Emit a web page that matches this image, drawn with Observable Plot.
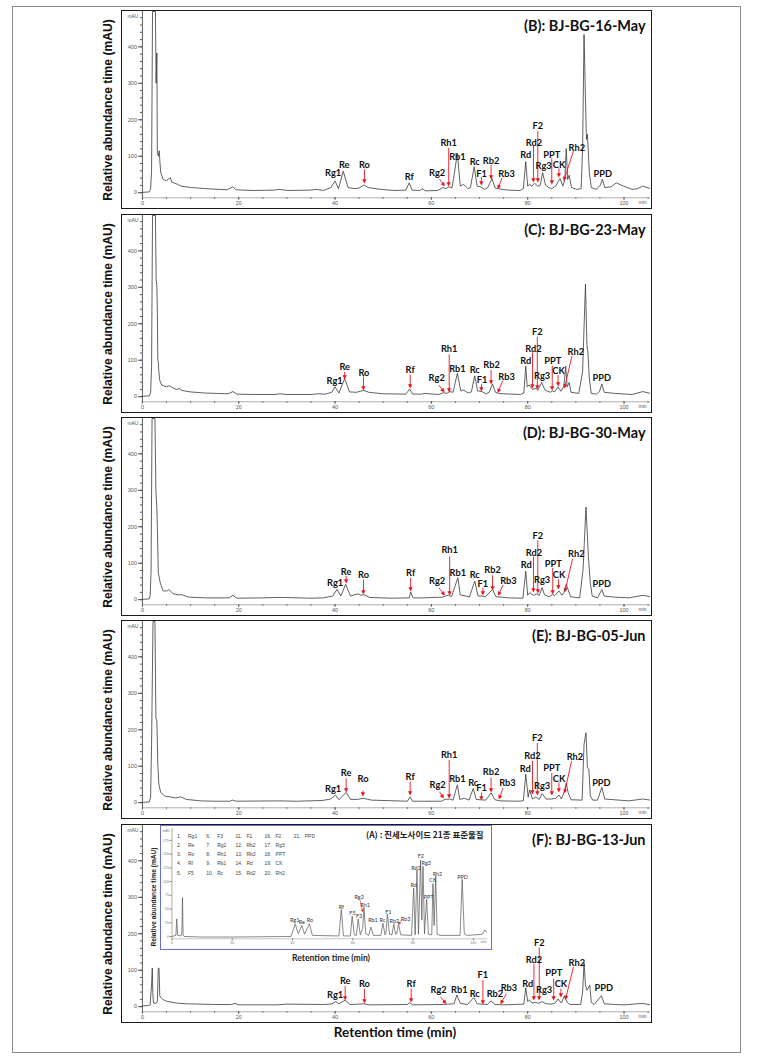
<!DOCTYPE html>
<html><head><meta charset="utf-8">
<script src="https://cdn.jsdelivr.net/npm/d3@7"></script>
<script src="https://cdn.jsdelivr.net/npm/@observablehq/plot@0.6"></script>
<style>
body{margin:0;background:#fff;}
#page{position:relative;width:772px;height:1056px;overflow:hidden;background:#fff;}
.outer{position:absolute;left:12px;top:6px;width:729px;height:1047px;border:1.5px solid #8c8c8c;box-sizing:border-box;}
.box{position:absolute;left:121px;width:531px;height:199px;border:1.5px solid #1a1a1a;box-sizing:border-box;background:#fff;}
.box > svg{position:absolute;left:-1.5px;top:-1.5px;}
.ylab{position:absolute;left:108px;transform:translate(-50%,-50%) rotate(-90deg);white-space:nowrap;font:bold 12.1px "Liberation Sans",Arial,sans-serif;color:#111;}
#xlab{position:absolute;left:395px;top:1032px;transform:translate(-50%,-50%);white-space:nowrap;font:bold 13.5px Lato,sans-serif;color:#111;}
.inset{position:absolute;left:160px;top:825px;width:332px;height:125px;border:1.5px solid #6d6dd2;box-sizing:border-box;background:#fff;}
.inset > svg{position:absolute;left:-1.5px;top:-1.5px;}
.insetY{position:absolute;left:153px;top:897px;transform:translate(-50%,-50%) rotate(-90deg);white-space:nowrap;font:bold 6.6px "Liberation Sans",Arial,sans-serif;color:#222;}
.insetX{position:absolute;left:331px;top:958px;transform:translate(-50%,-50%);white-space:nowrap;font:bold 8.6px Lato,sans-serif;color:#222;}
.legend{position:absolute;left:16px;top:5px;display:grid;grid-auto-flow:column;grid-template-rows:repeat(5,9.25px);grid-auto-columns:29.2px;font:5px "Liberation Sans",Arial,sans-serif;color:#444;align-items:center;}
.legend .n{display:inline-block;width:11px;}
</style>
</head><body>
<div id="page">
  <div class="outer"></div>
  <div id="xlab">Retention time (min)</div>
</div>
<script>
// ---------- DATA ----------
const standards = ["Rg1","Re","Ro","Rf","F5","F3","Rg2","Rh1","Rb1","Rc","F1","Rb2","Rb3","Rd","Rd2","F2","Rg3","PPT","CK","Rh2","PPD"];
const panelTitles = ["(B): BJ-BG-16-May","(C): BJ-BG-23-May","(D): BJ-BG-30-May","(E): BJ-BG-05-Jun","(F): BJ-BG-13-Jun"];
const insetTitle = "(A) : 진세노사이드 21종 표준물질";
const yTicks = [0,100,200,300,400];
const xTicks = [0,20,40,60,80,100];
const insetYTicks = [0,25,50,75,100,125,150,175];

// chromatogram traces [time (min), signal (mAU)]
const traceB = [[0,1],[1.4,2],[1.7,10],[1.9,60],[2.1,497],[2.7,497],[2.85,300],[3.0,383],[3.1,110],[3.3,100],[3.5,115],[3.6,90],[3.8,55],[4.3,37],[5.0,32],[5.4,38],[5.8,41],[6.1,29],[7.3,23],[8,18],[10.2,14],[13.2,11],[17.6,8],[18.7,16],[19.5,8],[22.8,6],[27.3,7],[28.4,9],[30.2,6],[34.7,7],[36.1,9],[37.6,6],[39.1,14],[40.0,32],[40.7,11],[41.7,59],[42.7,14],[44.3,11],[45,13],[46,21],[46.9,14],[49.5,9],[52.4,6],[54.7,7],[55.4,27],[56,7],[57.6,6],[58.2,11],[58.7,5],[61.3,6],[62.4,14],[63,11],[63.6,16],[64.3,13],[65.4,108],[66,18],[66.7,23],[67.6,11],[68.1,14],[68.9,71],[69.5,18],[70.2,16],[71,9],[71.7,14],[72.6,39],[73.2,13],[73.9,11],[74.7,9],[76.1,7],[78.4,6],[79.1,11],[79.6,85],[80,18],[80.4,23],[80.9,18],[81.4,26],[82.1,18],[82.6,20],[83.1,55],[83.7,21],[84.4,14],[85,11],[85.8,18],[86.7,39],[87.3,18],[87.7,36],[88,121],[88.3,36],[88.6,48],[89.1,14],[90.2,9],[91.1,11],[91.4,120],[91.7,434],[92,255],[92.2,146],[92.4,160],[92.8,55],[93.2,14],[94.3,9],[95.1,21],[95.5,37],[96,14],[97.3,16],[98.4,27],[99.9,18],[101.7,9],[102.8,11],[103.9,18],[105.5,11]];
const traceC = [[0,1],[1.4,2],[1.7,10],[1.9,80],[2.1,497],[2.7,497],[2.85,320],[3.0,305],[3.1,230],[3.2,100],[3.3,95],[3.4,70],[3.6,45],[4,32],[5,27],[5.6,30],[6.2,25],[7,20],[7.7,22],[8.2,17],[10,13],[13,10],[17.8,8],[18.8,14],[19.6,7],[23,6],[27.5,6],[28.5,8],[30,6],[35,6],[36.5,8],[38,7],[39.3,12],[40.0,27],[40.8,10],[42,50],[43,13],[44.5,12],[45.2,15],[46,17],[47,12],[50,8],[54.7,7],[55.5,21],[56.1,7],[58,7],[58.6,9],[61.5,6],[62.5,11],[63.2,9],[63.8,14],[64.5,12],[65.4,64],[66.1,16],[66.7,18],[67.7,10],[68.3,13],[69,57],[69.6,16],[70.5,14],[71.3,8],[72,12],[72.7,35],[73.3,12],[74,9],[75,8],[78.5,6],[79.2,10],[79.6,84],[79.9,27],[80.3,32],[81,20],[81.8,23],[82.1,17],[82.9,39],[83.6,18],[84.7,12],[85.1,16],[85.6,13],[86.3,27],[86.9,15],[87.5,27],[87.9,84],[88.2,27],[88.6,39],[89,12],[90.6,9],[91.4,68],[92,309],[92.3,141],[92.5,123],[92.8,50],[93.2,9],[94.3,7],[94.9,14],[95.4,35],[95.9,12],[98,9],[101.7,6],[103.9,14],[105.5,9]];
const traceD = [[0,1],[1.4,2],[1.6,10],[1.8,80],[2.0,497],[2.6,497],[2.8,300],[3.0,251],[3.1,200],[3.3,74],[3.7,46],[4.3,24],[5.2,24],[5.5,28],[6.3,17],[7.4,13],[8.1,14],[9.6,7],[13.3,5],[18.0,5],[18.8,12],[19.6,4],[25,5],[28,6],[29.5,6],[35,4],[37.6,5],[39.5,10],[40.4,28],[41.2,10],[42.2,42],[43.2,10],[44.8,16],[45.4,12],[45.9,14],[47.2,6],[52,4],[55.4,5],[55.7,21],[56.2,5],[58.2,5],[62.4,7],[62.9,10],[63.5,12],[64.2,9],[65.5,60],[66,13],[67.2,10],[67.9,7],[69,51],[69.7,10],[70.5,10],[71.2,8],[72.7,28],[73.4,8],[74.5,7],[76,5],[79.0,4],[79.6,78],[80,12],[80.4,19],[81.2,12],[81.9,16],[82.4,12],[83,33],[83.5,13],[84.5,8],[85.1,14],[85.6,11],[86.5,24],[87.1,12],[87.5,19],[88.0,42],[88.4,28],[88.9,8],[90.8,5],[91.5,83],[92.1,254],[92.4,174],[92.6,119],[93.0,46],[93.4,10],[94.5,5],[95.4,28],[95.9,10],[98,7],[101,5],[104,12],[105.5,8]];
const traceE = [[0,1],[1.4,2],[1.7,15],[1.9,160],[2.2,497],[2.6,497],[2.8,233],[3.0,224],[3.2,105],[3.4,51],[3.8,28],[4.7,18],[5.8,16],[6.9,13],[8.0,16],[9.1,9],[12.1,5],[15,4],[18.2,4],[18.7,7],[19.5,4],[28.4,5],[32,4],[37.3,6],[39.1,10],[40.1,21],[40.8,8],[42.3,28],[43.2,9],[44.7,9],[45.8,12],[47.6,7],[55,4],[55.6,16],[56.1,4],[62.1,4],[62.8,9],[63.8,10],[64.5,7],[65.4,49],[65.9,9],[66.9,12],[67.8,7],[68.7,39],[69.3,9],[70.2,8],[71.3,7],[72.4,27],[73.2,8],[74.3,5],[78,4],[79.1,5],[79.6,78],[80.1,15],[80.4,35],[81,10],[81.7,16],[82.4,9],[83,25],[83.8,10],[85,10],[85.8,12],[86.5,21],[87,10],[87.6,30],[88.0,54],[88.4,28],[89,8],[91.3,7],[91.7,160],[92.1,192],[92.4,96],[92.7,92],[93,19],[93.5,7],[94.5,7],[95.4,42],[96,10],[98,8],[101,5],[103.9,10],[105.5,7]];
const traceF = [[0,2],[1.2,3],[1.6,5],[1.9,60],[2.05,106],[2.15,40],[2.3,10],[2.8,9],[3.1,14],[3.3,106],[3.45,105],[3.6,30],[3.8,25],[4.2,20],[5,15],[7,10],[9,8],[15,6],[18.5,6],[19.2,9],[20,5],[28,5],[30,7],[38,6],[39.4,8],[40.1,14],[40.8,8],[42.1,18],[43.1,6],[45,7],[46,8],[47,5],[55,6],[55.5,11],[56.1,5],[62.5,6],[63.5,7],[64.7,8],[65.3,32],[66,9],[67.5,6],[68.8,25],[69.5,8],[70.6,7],[71.6,6],[72.4,16],[73.2,6],[75,5],[79.2,7],[79.6,52],[80.0,14],[80.4,18],[80.9,10],[81.6,12],[82.3,9],[83.0,14],[83.8,8],[85,7],[85.7,10],[86.3,21],[87.0,10],[87.6,29],[88.2,12],[88.8,6],[91,6],[91.4,40],[91.7,120],[92.0,60],[92.3,45],[92.9,59],[93.2,12],[93.8,6],[95.3,30],[95.9,8],[98,6],[100,5],[103.8,9],[105.5,5]];
const traceA = [[0,0],[1.3,2],[1.6,32],[1.9,2],[3.0,1],[3.3,8],[3.5,71],[3.7,3],[4,0],[10,-1],[20,-1],[39.5,0],[40.9,23],[41.9,5],[43.1,20],[44,4],[45.6,23],[46.6,2],[55.4,1],[56.2,49],[56.9,1],[59.2,1],[59.8,37],[60.5,3],[61.2,2],[61.8,32],[62.5,3],[63.3,15],[63.7,53],[64.3,5],[65.3,2],[66.0,17],[66.8,2],[69.3,2],[70.0,24],[70.7,3],[71.0,6],[71.5,41],[72.2,4],[73.0,3],[73.6,23],[74.2,4],[74.6,6],[75.2,23],[75.9,3],[79.5,2],[80.2,88],[80.7,3],[81.3,121],[81.8,4],[82.5,139],[82.9,30],[83.3,128],[83.8,5],[84.5,68],[85.1,4],[86.2,3],[86.6,96],[87.0,20],[87.5,110],[88.0,4],[89,2],[95.6,2],[96.3,104],[97.0,5],[98,2],[103,4],[103.8,12],[104.7,6]];

// peak labels [name, time, signal]
const labelsB = [["Rg1",39.6,54],["Re",41.9,76],["Ro",46.1,76],["Rf",55.4,43],["Rg2",61.2,55],["Rh1",63.6,137],["Rb1",65.4,97],["Rc",69.0,84],["F1",70.4,52],["Rb2",72.4,88],["Rb3",75.6,52],["Rd",79.6,104],["Rd2",81.3,137],["F2",82.1,183],["Rg3",83.3,73],["PPT",85.0,104],["CK",86.5,76],["Rh2",90.2,123],["PPD",95.6,52]];
const labelsC = [["Rg1",39.9,44],["Re",42.0,82],["Ro",46.0,66],["Rf",55.6,73],["Rg2",61.1,50],["Rh1",63.7,132],["Rb1",65.4,77],["Rc",69.0,73],["F1",70.5,47],["Rb2",72.5,86],["Rb3",75.6,53],["Rd",79.6,97],["Rd2",81.2,132],["F2",82.0,177],["Rg3",83.0,56],["PPT",85.2,97],["CK",86.4,71],["Rh2",90.0,123],["PPD",95.4,50]];
const labelsD = [["Rg1",40.0,45],["Re",42.3,76],["Ro",45.9,67],["Rf",55.7,74],["Rg2",61.2,51],["Rh1",63.8,135],["Rb1",65.5,74],["Rc",69.0,67],["F1",70.7,44],["Rb2",72.7,80],["Rb3",76.0,51],["Rd",79.7,94],["Rd2",81.3,128],["F2",82.1,174],["Rg3",83.0,54],["PPT",85.3,99],["CK",86.5,67],["Rh2",90.1,124],["PPD",95.4,42]];
const labelsE = [["Rg1",39.6,37],["Re",42.3,80],["Ro",45.8,66],["Rf",55.6,69],["Rg2",61.3,49],["Rh1",63.7,131],["Rb1",65.4,65],["Rc",68.7,55],["F1",70.4,39],["Rb2",72.4,83],["Rb3",75.8,53],["Rd",79.5,92],["Rd2",81.0,128],["F2",82.0,176],["Rg3",83.0,46],["PPT",85.0,94],["CK",86.5,66],["Rh2",89.8,126],["PPD",95.3,53]];
const labelsF = [["Rg1",40.0,32],["Re",42.1,70],["Ro",46.1,61],["Rf",55.8,61],["Rg2",61.5,45],["Rb1",65.8,45],["Rc",69.0,36],["F1",70.7,86],["Rb2",73.2,34],["Rb3",76.1,50],["Rd",80.0,61],["Rd2",81.3,129],["F2",82.4,175],["Rg3",83.4,47],["PPT",85.4,91],["CK",86.9,61],["Rh2",90.2,121],["PPD",95.8,50]];
const labelsA = [["Rg1",40.7,29],["Re",43.1,26],["Ro",45.8,29],["Rf",56.2,54],["F5",59.9,42],["F3",62.1,37],["Rg2",62.1,72],["Rh1",64.1,57],["Rb1",66.7,30],["Rc",69.8,30],["F1",71.8,44],["Rb2",73.8,27],["Rb3",77.5,32],["Rd",80.2,93],["Rd2",81.0,125],["F2",82.6,146],["Rg3",84.4,133],["PPT",85.2,72],["CK",86.6,102],["Rh2",88.1,113],["PPD",96.4,107]];

// red arrows [t1, v1, t2, v2] (tail -> head)
const arrowsB = [[46.1,64,46.1,29],[61.7,37,62.6,21],[63.6,123,63.6,21],[70.4,43,70.4,24],[72.4,76,72.4,41],[74.7,41,73.9,14],[81.2,128,81.2,32],[82.1,169,82.1,32],[85.0,94,85.0,27],[86.5,67,86.5,46],[89.5,114,87.6,37]];
const arrowsC = [[42.0,68,42.0,52],[45.9,55,45.9,21],[55.6,61,55.6,27],[61.5,32,62.5,16],[63.7,116,63.7,16],[70.4,34,70.4,18],[72.4,73,72.4,38],[74.8,43,73.9,15],[81.0,121,81.0,27],[82.0,164,82.0,25],[85.1,85,85.1,23],[86.3,59,86.3,34],[89.2,112,87.7,27]];
const arrowsD = [[42.3,65,42.3,48],[45.9,55,45.9,19],[55.7,60,55.7,28],[61.6,32,62.6,15],[63.8,119,63.8,15],[70.7,33,70.7,17],[72.7,67,72.7,31],[74.9,40,74.0,15],[81.2,118,81.2,24],[82.1,163,82.1,22],[85.2,87,85.2,19],[86.4,56,86.4,32],[89.3,112,87.8,25]];
const arrowsE = [[42.3,67,42.3,33],[45.8,33,45.8,21],[55.6,58,55.6,25],[61.7,30,62.4,15],[63.7,117,63.7,15],[70.4,28,70.4,10],[72.4,69,72.4,33],[74.9,40,74.1,13],[81.0,115,81.0,26],[82.0,164,82.0,24],[85.0,82,85.0,24],[86.5,55,86.5,33],[89.1,114,87.7,30]];
const arrowsF = [[42.1,57,42.1,23],[46.1,48,46.1,14],[55.8,50,55.8,16],[61.9,27,62.9,11],[70.7,73,70.7,11],[75.6,36,74.5,11],[81.3,118,81.3,23],[82.4,162,82.4,23],[85.4,77,85.4,23],[86.9,50,86.9,29],[89.5,109,87.9,23]];
const arrowsA = [[62.4,66,63.3,46],[76.3,30,75.3,24]];

// ---------- LAYOUT ----------
const W = 531, H = 199, ML = 21, MR = 0, MT = 1, MB = 11;
const X_MAX = 105.5, Y_MIN = -14, Y_MAX = 497;
const KX = (W - ML - MR) / X_MAX, KY = (H - MT - MB) / (Y_MAX - Y_MIN);
const RED = "#e5161e";

function headRot(a, kx, ky) {
  const dx = (a[2] - a[0]) * kx, dy = -(a[3] - a[1]) * ky;
  return Math.atan2(dx, -dy) * 180 / Math.PI;
}

function panelPlot(title, trace, labels, arrows) {
  const pts = trace.map(([t, v]) => ({t, v}));
  const labs = labels.map(([name, x, y]) => ({name, x, y}));
  const arrs = arrows.map(a => ({x1: a[0], y1: a[1], x2: a[2], y2: a[3], rot: headRot(a, KX, KY)}));
  return Plot.plot({
    width: W, height: H, marginLeft: ML, marginRight: MR, marginTop: MT, marginBottom: MB,
    x: {domain: [0, X_MAX]}, y: {domain: [Y_MIN, Y_MAX]},
    style: {background: "transparent", overflow: "visible", fontFamily: "'Liberation Sans', Arial, sans-serif"},
    marks: [
      Plot.axisY({ticks: d3.range(0, 481, 20), anchor: "left", tickSize: 2, tickFormat: () => "", color: "#555", label: null}),
      Plot.axisY({ticks: yTicks, anchor: "left", tickSize: 4, tickPadding: 1.5, fontSize: 5.5, color: "#555", label: null}),
      Plot.axisX({ticks: d3.range(0, 106, 5), anchor: "bottom", tickSize: 1.5, tickFormat: () => "", color: "#555", label: null}),
      Plot.axisX({ticks: xTicks, anchor: "bottom", tickSize: 2.5, tickPadding: 1, fontSize: 5.5, color: "#555", label: null}),
      Plot.ruleX([0], {stroke: "#333", strokeWidth: 0.8}),
      Plot.ruleY([Y_MIN], {stroke: "#777", strokeWidth: 0.6}),
      Plot.text(["mAU"], {frameAnchor: "top-left", dx: -4, dy: 3, textAnchor: "end", fontSize: 5, fill: "#555"}),
      Plot.text(["min"], {frameAnchor: "bottom-right", dx: -4, dy: 6.5, textAnchor: "end", fontSize: 5, fill: "#555"}),
      Plot.line(pts, {x: "t", y: "v", stroke: "#3a3a3a", strokeWidth: 0.8, clip: true}),
      Plot.link(arrs, {x1: "x1", y1: "y1", x2: "x2", y2: "y2", stroke: RED, strokeWidth: 0.9}),
      Plot.text(arrs, {x: "x2", y: "y2", text: () => "▲", rotate: "rot", fill: RED, fontSize: 5.5, fontFamily: "'DejaVu Sans', sans-serif"}),
      Plot.text(labs, {x: "x", y: "y", text: "name", fontFamily: "Lato, sans-serif", fontWeight: "bold", fontSize: 9.3, fill: "#111"}),
      Plot.text([title], {frameAnchor: "top-right", dx: -5, dy: 15, textAnchor: "end", lineAnchor: "middle", fontFamily: "Lato, sans-serif", fontWeight: "bold", fontSize: 14.5, fill: "#111"})
    ]
  });
}

function insetPlot() {
  const W2 = 332, H2 = 125, ml = 11.5, mr = 3, mt = 3, mb = 11;
  const xMax = 104.7, yMin = -4.2, yMax = 196.7;
  const kx = (W2 - ml - mr) / xMax, ky = (H2 - mt - mb) / (yMax - yMin);
  const pts = traceA.map(([t, v]) => ({t, v}));
  const labs = labelsA.map(([name, x, y]) => ({name, x, y}));
  const arrs = arrowsA.map(a => ({x1: a[0], y1: a[1], x2: a[2], y2: a[3], rot: headRot(a, kx, ky)}));
  return Plot.plot({
    width: W2, height: H2, marginLeft: ml, marginRight: mr, marginTop: mt, marginBottom: mb,
    x: {domain: [0, xMax]}, y: {domain: [yMin, yMax]},
    style: {background: "transparent", overflow: "visible", fontFamily: "'Liberation Sans', Arial, sans-serif"},
    marks: [
      Plot.axisY({ticks: insetYTicks, anchor: "left", tickSize: 2, tickPadding: 1, fontSize: 3.6, color: "#777", label: null}),
      Plot.axisX({ticks: xTicks, anchor: "bottom", tickSize: 2, tickPadding: 1, fontSize: 3.6, color: "#777", label: null}),
      Plot.ruleX([0], {stroke: "#777", strokeWidth: 0.6}),
      Plot.ruleY([yMin], {stroke: "#888", strokeWidth: 0.5}),
      Plot.text(["mAU"], {frameAnchor: "top-left", dx: -2, dy: 1, textAnchor: "end", fontSize: 3.4, fill: "#777"}),
      Plot.text(["min"], {frameAnchor: "bottom-right", dx: -1, dy: 4.5, textAnchor: "end", fontSize: 3.6, fill: "#777"}),
      Plot.line(pts, {x: "t", y: "v", stroke: "#555", strokeWidth: 0.7, clip: true}),
      Plot.link(arrs, {x1: "x1", y1: "y1", x2: "x2", y2: "y2", stroke: RED, strokeWidth: 0.6}),
      Plot.text(arrs, {x: "x2", y: "y2", text: () => "▲", rotate: "rot", fill: RED, fontSize: 3.5, fontFamily: "'DejaVu Sans', sans-serif"}),
      Plot.text(labs, {x: "x", y: "y", text: "name", fontFamily: "Lato, sans-serif", fontSize: 5.5, fill: "#333"}),
      Plot.text([insetTitle], {frameAnchor: "top-right", dx: -4, dy: 7, textAnchor: "end", lineAnchor: "middle", fontFamily: "'Noto Sans CJK KR', sans-serif", fontWeight: "bold", fontSize: 8.5, fill: "#222"})
    ]
  });
}

// ---------- BUILD ----------
const page = document.getElementById("page");
const panelTops = [10, 214, 417, 620, 824];
const traces = [traceB, traceC, traceD, traceE, traceF];
const labelSets = [labelsB, labelsC, labelsD, labelsE, labelsF];
const arrowSets = [arrowsB, arrowsC, arrowsD, arrowsE, arrowsF];

panelTitles.forEach((title, i) => {
  const box = document.createElement("div");
  box.className = "box";
  box.style.top = panelTops[i] + "px";
  box.appendChild(panelPlot(title, traces[i], labelSets[i], arrowSets[i]));
  page.appendChild(box);
  const yl = document.createElement("div");
  yl.className = "ylab";
  yl.textContent = "Relative abundance time (mAU)";
  yl.style.top = (panelTops[i] + 99.5) + "px";
  page.appendChild(yl);
});

// inset (A) standards chromatogram inside panel F
const inset = document.createElement("div");
inset.className = "inset";
inset.appendChild(insetPlot());
const leg = document.createElement("div");
leg.className = "legend";
standards.forEach((s, i) => {
  const it = document.createElement("div");
  it.innerHTML = `<span class="n">${i + 1}.</span>${s}`;
  leg.appendChild(it);
});
inset.appendChild(leg);
page.appendChild(inset);
const iy = document.createElement("div");
iy.className = "insetY";
iy.textContent = "Relative abundance time (mAU)";
page.appendChild(iy);
const ix = document.createElement("div");
ix.className = "insetX";
ix.textContent = "Retention time (min)";
page.appendChild(ix);
</script>
</body></html>
